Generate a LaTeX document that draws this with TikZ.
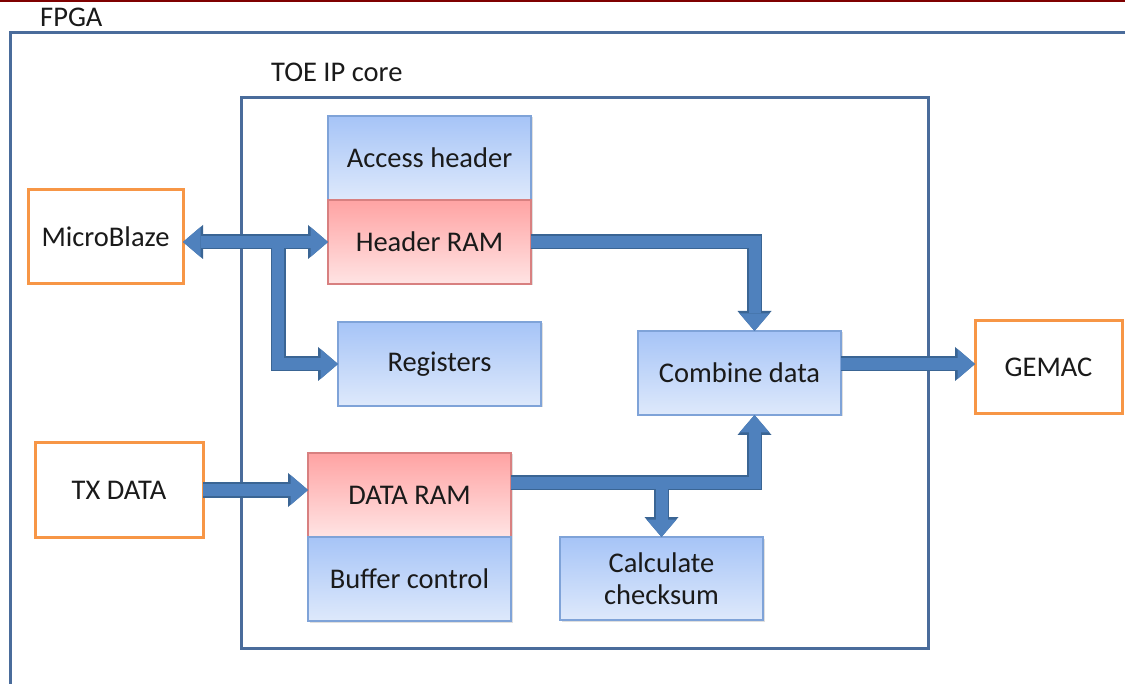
\documentclass[tikz,border=0pt]{standalone}
\usepackage{fontspec}
\setmainfont{Carlito}
\usetikzlibrary{arrows.meta,shadows}
\definecolor{frameblue}{HTML}{4A6C9B}
\definecolor{boxedge}{HTML}{7FA3D8}
\definecolor{boxtop}{HTML}{A6C4F7}
\definecolor{boxbot}{HTML}{DEE9FB}
\definecolor{redtop}{HTML}{FFA3A3}
\definecolor{redbot}{HTML}{FFE4E4}
\definecolor{rededge}{HTML}{D88080}
\definecolor{orng}{HTML}{F79646}
\definecolor{arrfill}{HTML}{4F81BD}
\definecolor{arredge}{HTML}{3A6594}
\definecolor{topline}{HTML}{7F0000}
\definecolor{txt}{HTML}{1A1A1A}
\tikzset{
  lbl/.style={font=\fontsize{28.5}{32}\selectfont, text=txt, inner sep=0pt},
  basebox/.style={lbl, anchor=north west, outer sep=0pt, align=center,
    drop shadow={shadow xshift=1.5pt, shadow yshift=-1.5pt, opacity=0.25, fill=gray}},
  bluebox/.style={basebox, draw=boxedge, line width=1.3pt, top color=boxtop, bottom color=boxbot,
    minimum width=203pt, minimum height=84pt},
  redbox/.style={basebox, draw=rededge, line width=1.3pt, top color=redtop, bottom color=redbot,
    minimum width=203pt, minimum height=84pt},
  orangebox/.style={lbl, anchor=north west, outer sep=0pt, draw=orng, line width=3pt, fill=white},
  frame/.style={draw=frameblue, line width=3pt},
  fatout/.style={draw=arredge, line width=15pt,
    -{Triangle[width=34pt,length=20pt,line width=0pt]}},
  fatin/.style={draw=arrfill, line width=12pt,
    -{Triangle[width=30pt,length=17.5pt,line width=0pt]}},
  fatoutd/.style={draw=arredge, line width=15pt,
    {Triangle[width=34pt,length=20pt,line width=0pt]}-{Triangle[width=34pt,length=20pt,line width=0pt]}},
  fatind/.style={draw=arrfill, line width=12pt,
    {Triangle[width=30pt,length=17.5pt,line width=0pt]}-{Triangle[width=30pt,length=17.5pt,line width=0pt]}},
}
\begin{document}
\begin{tikzpicture}[x=1pt,y=-1pt]
\useasboundingbox (0,0) rectangle (1125,684);
\fill[white] (0,0) rectangle (1125,684);
% top rule
\coordinate (tl) at (0,1);
\coordinate (tr) at (1125,1);
\draw[topline, line width=2.5pt] (tl) -- (tr);
% FPGA frame
\begin{scope}
\clip (0,0) rectangle (1125,684);
\draw[frame] (10,33) rectangle (1160,720);
\end{scope}
\node[lbl, anchor=base west] (fpga) at (40,27) {FPGA};
% TOE frame
\draw[frame] (241,98) rectangle (928,648);
\node[lbl, anchor=base west] (toe) at (271,82) {TOE IP core};

% nodes
\node[orangebox, minimum width=155pt, minimum height=94pt] (mb) at (28,190) {MicroBlaze};
\node[orangebox, minimum width=168pt, minimum height=94pt] (tx) at (35,443) {TX DATA};
\node[orangebox, minimum width=147pt, minimum height=93pt] (gm) at (975,321) {GEMAC};

\node[bluebox] (ah) at (328,116) {Access header};
\node[redbox] (hr) at (328,200) {Header RAM};
\node[bluebox] (reg) at (338,322) {Registers};
\node[bluebox] (cd) at (638,331) {Combine data};
\node[redbox] (dr) at (308,453) {DATA RAM};
\node[bluebox] (bc) at (308,537) {Buffer control};
\node[bluebox, minimum height=83pt] (cs) at (560,537) {Calculate\\checksum};

% junction coordinates
\coordinate (j1) at (278,242);
\coordinate (j2) at ([yshift=12pt]dr.east);

% connectors: outlines first
\draw[fatoutd] (hr.west -| mb.east) -- (hr.west);
\draw[fatout] (j1) |- (reg.west);
\draw[fatout] (hr.east) -| ([xshift=15pt]cd.north);
\draw[fatout] (j2) -| ([xshift=15pt]cd.south);
\draw[fatout] (cs.north |- j2) -- (cs.north);
\draw[fatout] (tx.east) -- (tx.east -| dr.west);
\draw[fatout] ([yshift=9pt]cd.east) -- ([yshift=9pt]cd.east -| gm.west);
% connectors: fills
\draw[fatind] (hr.west -| mb.east) -- (hr.west);
\draw[fatin] (j1) |- (reg.west);
\draw[fatin] (hr.east) -| ([xshift=15pt]cd.north);
\draw[fatin] (j2) -| ([xshift=15pt]cd.south);
\draw[fatin] (cs.north |- j2) -- (cs.north);
\draw[fatin] (tx.east) -- (tx.east -| dr.west);
\draw[fatin] ([yshift=9pt]cd.east) -- ([yshift=9pt]cd.east -| gm.west);
\end{tikzpicture}
\end{document}
